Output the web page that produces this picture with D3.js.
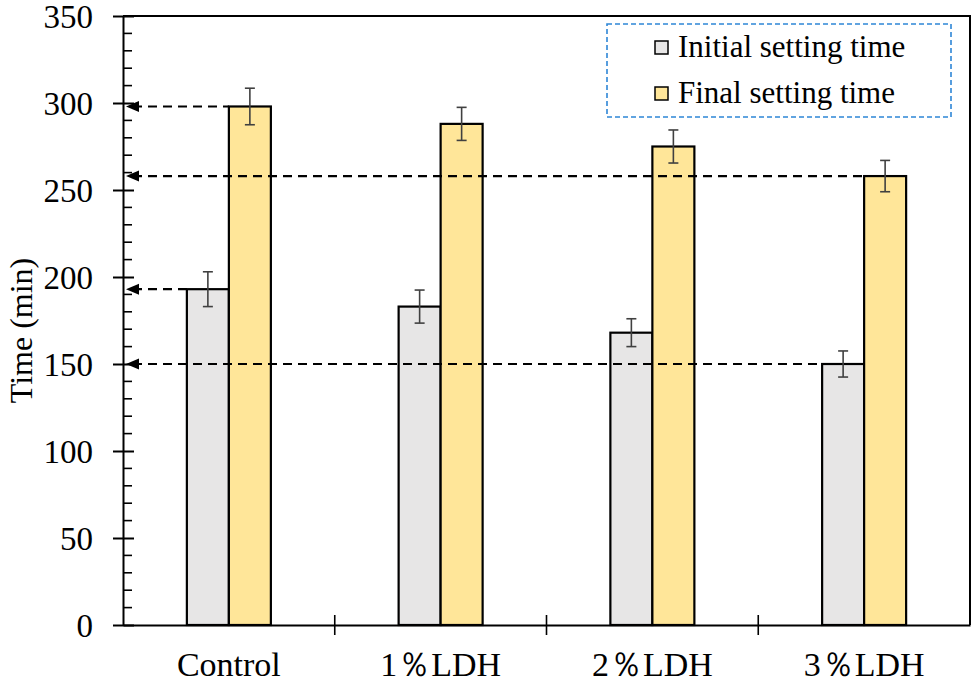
<!DOCTYPE html>
<html>
<head>
<meta charset="utf-8">
<script src="https://cdn.jsdelivr.net/npm/d3@7"></script>
<style>
  html, body { margin: 0; padding: 0; background: #fff; }
  svg { display: block; }
  text { font-family: "Liberation Serif", "Times New Roman", serif; fill: #000; }
</style>
</head>
<body>
<svg id="chart" width="975" height="684"></svg>
<script>
const categories = ["Control", "1％LDH", "2％LDH", "3％LDH"];
const seriesNames = ["Initial setting time", "Final setting time"];
const initialValues = [193, 183, 168, 150];
const initialErrors = [10, 9.5, 8, 7.5];
const finalValues = [298, 288, 275, 258];
const finalErrors = [10.5, 9.5, 9.5, 9];
const yTicks = [0, 50, 100, 150, 200, 250, 300, 350];
const seriesColors = ["#e7e6e6", "#ffe699"];
// reference lines: value, category index and series where the line stops
const refLines = [
  { value: 298, cat: 0, series: 1 },
  { value: 258, cat: 3, series: 1 },
  { value: 193, cat: 0, series: 0 },
  { value: 150, cat: 3, series: 0 }
];

const svg = d3.select("#chart");
const margin = { left: 123, right: 5, top: 16, bottom: 59 };
const W = 975, H = 684;
const x0 = margin.left, x1 = W - margin.right, yTop = margin.top, yBot = H - margin.bottom;

const x = d3.scaleBand().domain(categories).range([x0, x1]).padding(0);
const y = d3.scaleLinear().domain([0, 350]).range([yBot, yTop]);
const barW = 42;

const series = [
  { name: seriesNames[0], values: initialValues, errors: initialErrors, color: seriesColors[0] },
  { name: seriesNames[1], values: finalValues, errors: finalErrors, color: seriesColors[1] }
];

function barX(catIdx, sIdx) {
  const c = x(categories[catIdx]) + x.bandwidth() / 2;
  return sIdx === 0 ? c - barW : c;
}

// Bars
series.forEach((s, si) => {
  svg.append("g").selectAll("rect").data(s.values).join("rect")
    .attr("x", (d, i) => barX(i, si))
    .attr("y", d => y(d))
    .attr("width", barW)
    .attr("height", d => y(0) - y(d))
    .attr("fill", s.color)
    .attr("stroke", "#000")
    .attr("stroke-width", 2.2);
});

// Error bars
series.forEach((s, si) => {
  const g = svg.append("g").attr("stroke", "#404040").attr("stroke-width", 1.6);
  s.values.forEach((v, i) => {
    const cx = barX(i, si) + barW / 2;
    const e = s.errors[i];
    g.append("line").attr("x1", cx).attr("x2", cx).attr("y1", y(v + e)).attr("y2", y(v - e));
    g.append("line").attr("x1", cx - 5).attr("x2", cx + 5).attr("y1", y(v + e)).attr("y2", y(v + e));
    g.append("line").attr("x1", cx - 5).attr("x2", cx + 5).attr("y1", y(v - e)).attr("y2", y(v - e));
  });
});

// Frame (top and right)
svg.append("path")
  .attr("d", `M${x0},${yTop}H${x1}V${yBot}`)
  .attr("fill", "none").attr("stroke", "#000").attr("stroke-width", 2);

// Y axis
const yAxis = d3.axisLeft(y).tickValues(yTicks).tickSize(0).tickPadding(30);
const gy = svg.append("g").attr("transform", `translate(${x0},0)`).call(yAxis);
gy.select(".domain").attr("stroke", "#000").attr("stroke-width", 2);
gy.selectAll("text").style("font-size", "33px").attr("dy", "0.36em");
// major ticks crossing the axis
gy.selectAll(".tick").append("line")
  .attr("x1", -10).attr("x2", 11).attr("stroke", "#000").attr("stroke-width", 2);
// minor ticks inward
const minor = d3.range(10, 350, 10).filter(v => v % 50 !== 0);
svg.append("g").selectAll("line").data(minor).join("line")
  .attr("x1", x0).attr("x2", x0 + 9)
  .attr("y1", d => y(d)).attr("y2", d => y(d))
  .attr("stroke", "#000").attr("stroke-width", 1.6);

// X axis
const gx = svg.append("g").attr("transform", `translate(0,${yBot})`)
  .call(d3.axisBottom(x).tickSize(0).tickPadding(27));
gx.select(".domain").attr("stroke", "#000").attr("stroke-width", 2);
gx.selectAll("text").style("font-size", "34px");
// separator ticks between categories
svg.append("g").selectAll("line").data(categories.slice(1)).join("line")
  .attr("x1", d => x(d)).attr("x2", d => x(d))
  .attr("y1", yBot - 10).attr("y2", yBot + 10)
  .attr("stroke", "#000").attr("stroke-width", 1.6);

// Y label
svg.append("text")
  .attr("transform", `translate(32,${(yTop + yBot) / 2 + 10}) rotate(-90)`)
  .attr("text-anchor", "middle")
  .style("font-size", "32px")
  .text("Time (min)");

// Reference dashed lines with arrowheads
const gr = svg.append("g");
refLines.forEach(r => {
  const yy = y(r.value);
  const xEnd = barX(r.cat, r.series);
  gr.append("line")
    .attr("x1", x0 + 10).attr("x2", xEnd)
    .attr("y1", yy).attr("y2", yy)
    .attr("stroke", "#000").attr("stroke-width", 2.2)
    .attr("stroke-dasharray", "9,6");
  gr.append("path")
    .attr("d", `M${x0 + 3},${yy} L${x0 + 16},${yy - 5.5} L${x0 + 16},${yy + 5.5} Z`)
    .attr("fill", "#000");
});

// Legend
const lg = svg.append("g");
lg.append("rect")
  .attr("x", 607).attr("y", 24).attr("width", 344).attr("height", 93)
  .attr("fill", "#fff").attr("stroke", "#2e86d6").attr("stroke-width", 1.6)
  .attr("stroke-dasharray", "5,3");
series.forEach((s, i) => {
  const cy = 47 + i * 46;
  lg.append("rect")
    .attr("x", 655).attr("y", cy - 6).attr("width", 13).attr("height", 13)
    .attr("fill", s.color).attr("stroke", "#000").attr("stroke-width", 1.5);
  lg.append("text")
    .attr("x", 678).attr("y", cy + 10)
    .style("font-size", "31px")
    .text(s.name);
});
</script>
</body>
</html>
